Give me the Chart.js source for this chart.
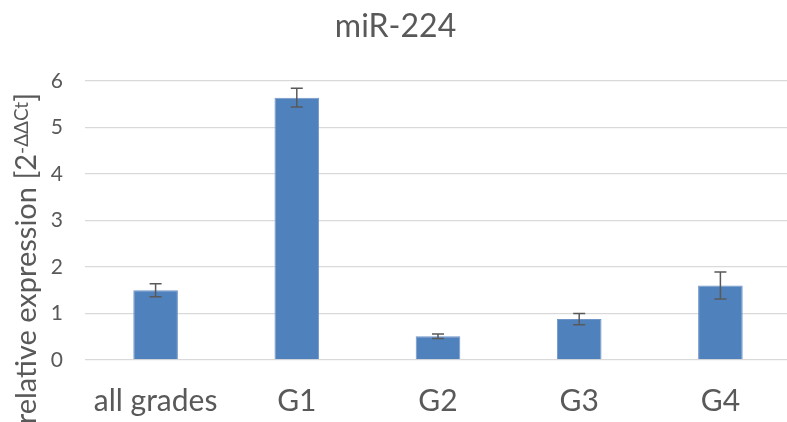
<!DOCTYPE html>
<html>
<head>
<meta charset="utf-8">
<script src="https://cdn.jsdelivr.net/npm/chart.js@4.4.1/dist/chart.umd.min.js"></script>
<style>
  html, body { margin: 0; padding: 0; background: #ffffff; overflow: hidden; }
  #wrap { position: relative; width: 791px; height: 422px; }
</style>
</head>
<body>
<div id="wrap"><canvas id="chart"></canvas></div>
<script>
// miR-224 relative expression by tumour grade
const categories = ['all grades', 'G1', 'G2', 'G3', 'G4'];
const expression = [1.50, 5.64, 0.51, 0.88, 1.60];
const errors = [0.14, 0.20, 0.05, 0.12, 0.29];
const yTicks = [0, 1, 2, 3, 4, 5, 6];

const FONT = 'Lato, "Liberation Sans", sans-serif';
const TEXT = '#595959';

// symmetric error bars on top of each bar
const errorBars = {
  id: 'errorBars',
  afterDatasetsDraw(chart) {
    const ctx = chart.ctx;
    const y = chart.scales.y;
    const meta = chart.getDatasetMeta(0);
    ctx.save();
    ctx.strokeStyle = '#595959';
    ctx.lineWidth = 1.5;
    meta.data.forEach((bar, i) => {
      const top = y.getPixelForValue(expression[i] + errors[i]);
      const bot = y.getPixelForValue(expression[i] - errors[i]);
      const cap = 6;
      ctx.beginPath();
      ctx.moveTo(bar.x, top); ctx.lineTo(bar.x, bot);
      ctx.moveTo(bar.x - cap, top); ctx.lineTo(bar.x + cap, top);
      ctx.moveTo(bar.x - cap, bot); ctx.lineTo(bar.x + cap, bot);
      ctx.stroke();
    });
    ctx.restore();
  }
};

// rotated y-axis title with a superscript exponent
const yTitle = {
  id: 'yTitle',
  afterDraw(chart) {
    const ctx = chart.ctx;
    const main = 'relative expression [2';
    const sup = '-\u0394\u0394Ct';
    const tail = ']';
    const bigFont = '29px ' + FONT;
    const smallFont = '19px ' + FONT;
    ctx.save();
    ctx.font = bigFont;
    const wMain = ctx.measureText(main).width;
    const wTail = ctx.measureText(tail).width;
    ctx.font = smallFont;
    const wSup = ctx.measureText(sup).width;
    const total = wMain + wSup + wTail;
    const endY = 93;   // upper end of the title on the page
    const baseX = 36;  // baseline position after rotation
    ctx.fillStyle = TEXT;
    ctx.textAlign = 'left';
    ctx.textBaseline = 'alphabetic';
    ctx.translate(baseX, endY + total);
    ctx.rotate(-Math.PI / 2);
    ctx.font = bigFont;
    ctx.fillText(main, 0, 0);
    ctx.font = smallFont;
    ctx.fillText(sup, wMain, -8);
    ctx.font = bigFont;
    ctx.fillText(tail, wMain + wSup, 0);
    ctx.restore();
  }
};

new Chart(document.getElementById('chart'), {
  type: 'bar',
  data: {
    labels: categories,
    datasets: [{
      data: expression,
      backgroundColor: '#4f81bd',
      borderColor: '#7096c8',
      borderWidth: 1,
      barPercentage: 0.316,
      categoryPercentage: 1
    }]
  },
  options: {
    responsive: true,
    maintainAspectRatio: false,
    animation: false,
    events: [],
    layout: { padding: { left: 0, right: 0, top: 0, bottom: 0 } },
    plugins: {
      legend: { display: false },
      tooltip: { enabled: false },
      title: {
        display: true,
        text: 'miR-224',
        color: TEXT,
        font: { family: FONT, size: 32, weight: 'normal' },
        padding: { top: 7, bottom: 35.5 }
      }
    },
    scales: {
      x: {
        offset: true,
        grid: { display: false, drawTicks: false },
        border: { display: false },
        ticks: { color: TEXT, font: { family: FONT, size: 30 }, padding: 23, maxRotation: 0, autoSkip: false },
        afterFit(scale) { scale.height = 62; }
      },
      y: {
        min: 0,
        max: 6,
        afterBuildTicks(scale) { scale.ticks = yTicks.map(v => ({ value: v })); },
        grid: { color: '#d9d9d9', lineWidth: 1.3, drawTicks: false },
        border: { display: false },
        ticks: { color: TEXT, font: { family: FONT, size: 21 }, padding: 22 },
        afterFit(scale) { scale.width = 85; }
      }
    }
  },
  plugins: [errorBars, yTitle]
});
</script>
</body>
</html>
